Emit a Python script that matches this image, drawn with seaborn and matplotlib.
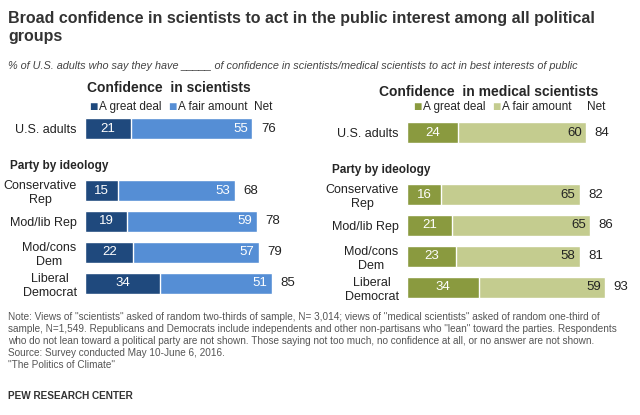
import pandas as pd
import matplotlib.pyplot as plt
import seaborn as sns

sns.set_theme(style='white')
plt.rcParams['font.family'] = ['Liberation Sans', 'DejaVu Sans']

groups = ['U.S. adults', ' ', 'Conservative\nRep', 'Mod/lib Rep', 'Mod/cons\nDem', 'Liberal\nDemocrat']
sci_great = [21, None, 15, 19, 22, 34]
sci_fair = [55, None, 53, 59, 57, 51]
sci_net = [76, None, 68, 78, 79, 85]
med_great = [24, None, 16, 21, 23, 34]
med_fair = [60, None, 65, 65, 58, 59]
med_net = [84, None, 82, 86, 81, 93]

fig = plt.figure(figsize=(6.4, 4.15), dpi=100)
W, H = 640, 415


def panel(left, top, scale, great, fair, net, dark, light, title, fair_txt):
    ax = fig.add_axes([left / W, 1 - (top + 192) / H, 100 * scale / W, 192 / H])
    df = pd.DataFrame({'group': groups, 'great': great, 'fair': fair, 'net': net})
    df['total'] = df['great'] + df['fair']
    sns.barplot(data=df, y='group', x='total', order=groups, color=light,
                width=0.68, saturation=1, ax=ax, orient='h')
    sns.barplot(data=df, y='group', x='great', order=groups, color=dark,
                width=0.68, saturation=1, ax=ax, orient='h')
    ax.set_xlim(0, 100)
    ax.set_ylim(5.6, -0.6)
    ax.set_xlabel('')
    ax.set_ylabel('')
    ax.set_xticks([])
    for s in ax.spines.values():
        s.set_visible(False)
    ax.tick_params(axis='y', length=0, pad=6)
    for t in ax.get_yticklabels():
        t.set_multialignment('center')
        t.set_fontsize(9)
        t.set_color('#222222')
    for i, row in df.iterrows():
        if pd.isna(row['net']):
            continue
        ax.text(row['great'] / 2, i, f"{int(row['great'])}", ha='center', va='center',
                color='white', fontsize=9.5)
        ax.text(row['total'] - 2, i, f"{int(row['fair'])}", ha='right', va='center',
                color=fair_txt, fontsize=9.5)
        ax.text(row['total'] + 4, i, f"{int(row['net'])}", ha='left', va='center',
                color='#222222', fontsize=9.5)
    fig.text((left - 75) / W, 1 - (top + 56) / H,
             'Party by ideology', fontsize=8.5, fontweight='bold', va='center')
    fig.text((left + 85 * scale * 0.45) / W, 1 - (top - 22) / H, title,
             fontsize=10, fontweight='bold', ha='center', va='center')
    return ax


panel(85, 110, 2.2, sci_great, sci_fair, sci_net, '#1f497d', '#558ed5',
      'Confidence  in scientists', 'white')
panel(407, 114, 2.13, med_great, med_fair, med_net, '#8a9a3f', '#c4cc8f',
      'Confidence  in medical scientists', '#222222')


def legend(x, y, dark, light, net_x):
    fig.text(x / W, 1 - y / H, '■', color=dark, fontsize=10, va='center')
    fig.text((x + 10) / W, 1 - y / H, 'A great deal', fontsize=8.5, va='center')
    fig.text((x + 79) / W, 1 - y / H, '■', color=light, fontsize=10, va='center')
    fig.text((x + 89) / W, 1 - y / H, 'A fair amount', fontsize=8.5, va='center')
    fig.text(net_x / W, 1 - y / H, 'Net', fontsize=8.5, va='center')

legend(89, 107, '#1f497d', '#558ed5', 254)
legend(413, 107, '#8a9a3f', '#c4cc8f', 587)

fig.text(8 / W, 1 - 28 / H, 'Broad confidence in scientists to act in the public interest among all political\ngroups',
         fontsize=11.5, fontweight='bold', color='#333333', va='center', linespacing=1.25)
fig.text(8 / W, 1 - 66 / H,
         '% of U.S. adults who say they have _____ of confidence in scientists/medical scientists to act in best interests of public',
         fontsize=7.8, style='italic', color='#444444', va='center')

note = ('Note: Views of "scientists" asked of random two-thirds of sample, N= 3,014; views of "medical scientists" asked of random one-third of\n'
        'sample, N=1,549. Republicans and Democrats include independents and other non-partisans who "lean" toward the parties. Respondents\n'
        'who do not lean toward a political party are not shown. Those saying not too much, no confidence at all, or no answer are not shown.\n'
        'Source: Survey conducted May 10-June 6, 2016.\n'
        '"The Politics of Climate"')
fig.text(8 / W, 1 - 312 / H, note, fontsize=7.2, color='#555555', va='top', linespacing=1.25)
fig.text(8 / W, 1 - 396 / H, 'PEW RESEARCH CENTER', fontsize=7.2, fontweight='bold',
         color='#333333', va='center')

fig.savefig('out.png', dpi=100)
